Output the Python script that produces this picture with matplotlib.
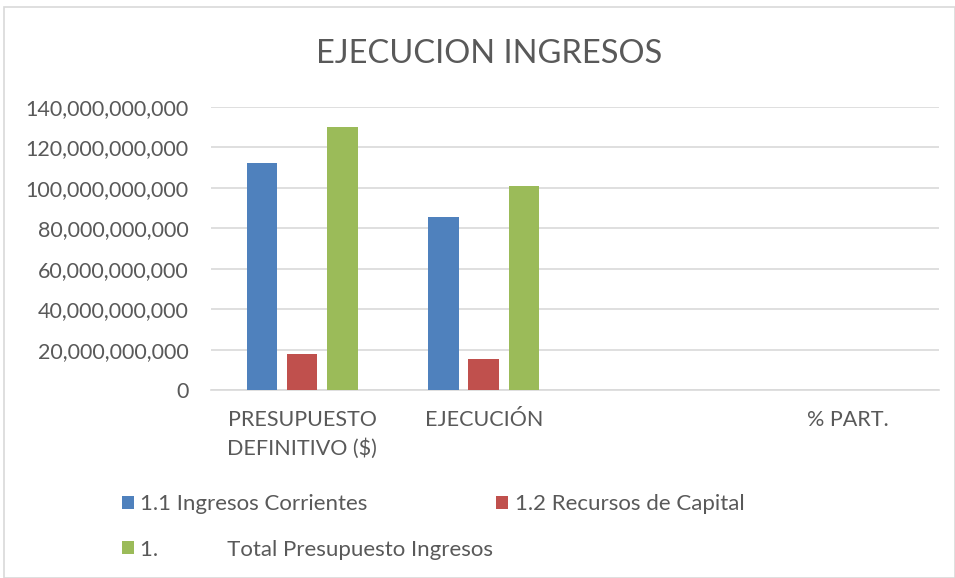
import matplotlib
matplotlib.use("Agg")
import matplotlib.pyplot as plt
import numpy as np
from matplotlib.patches import Rectangle
from matplotlib.ticker import FuncFormatter

categories = ["PRESUPUESTO\nDEFINITIVO ($)", "EJECUCIÓN", "", "% PART."]
series_names = ["1.1 Ingresos Corrientes", "1.2 Recursos de Capital",
                "1.            Total Presupuesto Ingresos"]
ingresos_corrientes = [112.2e9, 85.6e9, 0, 0]
recursos_capital = [17.8e9, 15.2e9, 0, 0]
total_ingresos = [130.0e9, 100.9e9, 0, 0]
colors = ["#4F81BD", "#C0504D", "#9BBB59"]

plt.rcParams['font.family'] = ['Lato', 'DejaVu Sans']
txt = "#595959"

fig = plt.figure(figsize=(9.55, 5.78), dpi=100)
fig.patches.append(Rectangle((0.004, 0.0), 0.996, 0.988, transform=fig.transFigure,
                             fill=False, edgecolor="#D9D9D9", linewidth=1.2))
ax = fig.add_axes([0.221, 0.325, 0.762, 0.490])

x = np.arange(len(categories))
w = 0.17
off = 0.22
handles = []
for i, (vals, name) in enumerate(zip([ingresos_corrientes, recursos_capital, total_ingresos], series_names)):
    handles.append(ax.bar(x + (i - 1) * off, vals, width=w, color=colors[i], label=name, zorder=3))

ax.set_xlim(-0.5, len(categories) - 0.5)
ax.set_ylim(0, 140e9)
ax.set_yticks(np.arange(0, 140e9 + 1, 20e9))
ax.yaxis.set_major_formatter(FuncFormatter(lambda v, p: f"{v:,.0f}"))
ax.set_xticks(x)
ax.set_xticklabels(categories, linespacing=1.5)
ax.tick_params(axis='both', length=0, labelsize=15.5, colors=txt)
ax.tick_params(axis='y', pad=16)
ax.tick_params(axis='x', pad=14)
ax.grid(axis='y', color="#D9D9D9", linewidth=1.2, zorder=0)
for s in ["top", "right", "left"]:
    ax.spines[s].set_visible(False)
ax.spines["bottom"].set_color("#D9D9D9")
ax.spines["bottom"].set_linewidth(1.2)

fig.text(0.512, 0.907, "EJECUCION INGRESOS", ha="center", va="center",
         fontsize=23.5, color=txt)

order = [0, 2, 1]
leg = fig.legend([handles[i] for i in order], [series_names[i] for i in order],
                 loc="upper left", bbox_to_anchor=(0.118, 0.16), ncol=2, frameon=False,
                 fontsize=16, handlelength=0.55, handleheight=0.55, handletextpad=0.3,
                 columnspacing=0.1, labelspacing=1.13, borderaxespad=0)
for t in leg.get_texts():
    t.set_color(txt)

fig.savefig("out.png", dpi=100)
